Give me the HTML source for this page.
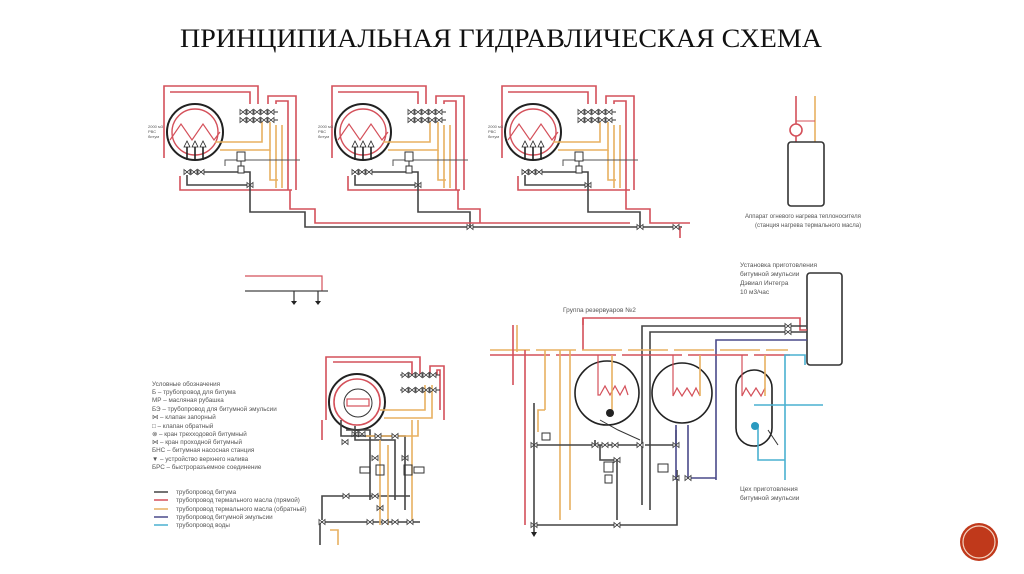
<!DOCTYPE html>
<html><head><meta charset="utf-8"><style>
html,body{margin:0;padding:0;background:#fff;}
svg{display:block;}
.t{font-family:"Liberation Sans",sans-serif;fill:#555;}
</style></head><body>
<svg width="1024" height="574" viewBox="0 0 1024 574" xmlns="http://www.w3.org/2000/svg">
<defs>
<g id="v"><path d="M-3,-2.5 L3,2.5 L3,-2.5 L-3,2.5 Z" fill="#fff" stroke="#333" stroke-width="0.8"/></g>
<g id="boiler" fill="none" stroke-width="1.6">
  <polyline points="164,158 164,86 258,86 258,104" stroke="#d4505a"/>
  <polyline points="170,92 250,92 250,104" stroke="#d4505a"/>
  <polyline points="268,104 268,96 296,96 296,190" stroke="#d4505a"/>
  <polyline points="276,104 276,101 288,101 288,190" stroke="#d4505a"/>
  <polyline points="180,176 180,190 292,190" stroke="#d4505a"/>
  <circle cx="195" cy="132" r="23" stroke="#d4505a" stroke-width="1.4"/>
  <circle cx="195" cy="132" r="28" stroke="#222" stroke-width="2"/>
  <polyline points="170,140 181,124 192,140 203,124 214,140 220,132" stroke="#d4505a" stroke-width="1.2"/>
  <polyline points="215,142 262,142 262,122" stroke="#e8b060"/>
  <polyline points="220,150 270,150 270,122" stroke="#e8b060"/>
  <polyline points="270,150 270,180 278,180" stroke="#e8b060"/>
  <line x1="276" y1="125" x2="276" y2="188" stroke="#e8b060"/>
  <line x1="282" y1="125" x2="282" y2="188" stroke="#e8b060"/>
  <polyline points="225,166 225,160 300,160" stroke="#555" stroke-width="1"/>
  <line x1="240" y1="112" x2="278" y2="112" stroke="#333" stroke-width="1"/>
  <line x1="240" y1="120" x2="278" y2="120" stroke="#333" stroke-width="1"/>
  <line x1="187" y1="160" x2="187" y2="145" stroke="#222"/>
  <line x1="195" y1="160" x2="195" y2="145" stroke="#222"/>
  <line x1="203" y1="160" x2="203" y2="145" stroke="#222"/>
  <path d="M184,147 L187,141 L190,147Z M192,147 L195,141 L198,147Z M200,147 L203,141 L206,147Z" fill="#fff" stroke="#222" stroke-width="0.8"/>
  <polyline points="185,170 185,172 250,172 250,186" stroke="#444"/>
  <polyline points="187,175 187,185 250,185" stroke="#444"/>
  <rect x="237" y="152" width="8" height="9" fill="#fff" stroke="#333" stroke-width="1"/>
  <rect x="238" y="166" width="6" height="7" fill="#fff" stroke="#333" stroke-width="1"/>
  <line x1="241" y1="161" x2="241" y2="166" stroke="#333" stroke-width="1"/>
</g>
<g id="bv">
  <use href="#v" x="243" y="112"/><use href="#v" x="250" y="112"/><use href="#v" x="257" y="112"/><use href="#v" x="264" y="112"/><use href="#v" x="271" y="112"/>
  <use href="#v" x="243" y="120"/><use href="#v" x="250" y="120"/><use href="#v" x="257" y="120"/><use href="#v" x="264" y="120"/><use href="#v" x="271" y="120"/>
  <use href="#v" x="187" y="172"/><use href="#v" x="194" y="172"/><use href="#v" x="201" y="172"/><use href="#v" x="250" y="185"/>
</g>
</defs>

<text x="180" y="47" font-family="'Liberation Serif',serif" font-size="26" fill="#111" textLength="642" lengthAdjust="spacingAndGlyphs">ПРИНЦИПИАЛЬНАЯ ГИДРАВЛИЧЕСКАЯ СХЕМА</text>

<!-- boilers -->
<use href="#boiler"/><use href="#bv"/>
<use href="#boiler" x="168"/><use href="#bv" x="168"/>
<use href="#boiler" x="338"/><use href="#bv" x="338"/>
<g class="t" font-size="4">
<text x="148" y="128">2000 м3</text><text x="148" y="133">РВС</text><text x="148" y="138">битум</text>
<text x="318" y="128">2000 м3</text><text x="318" y="133">РВС</text><text x="318" y="138">битум</text>
<text x="488" y="128">2000 м3</text><text x="488" y="133">РВС</text><text x="488" y="138">битум</text>
</g>
<!-- main bus -->
<g fill="none" stroke-width="1.6">
<polyline points="250,186 250,212 305,212 305,227 682,227" stroke="#444"/>
<polyline points="418,186 418,212 470,212 470,227" stroke="#444"/>
<polyline points="588,186 588,212 640,212 640,227" stroke="#444"/>
<polyline points="290,190 290,209 315,209 315,223 630,223" stroke="#d4505a"/>
<polyline points="458,190 458,209 480,209 480,223" stroke="#d4505a"/>
<polyline points="626,190 626,209 650,209 650,223 690,223" stroke="#d4505a"/>
<line x1="680" y1="227" x2="680" y2="238" stroke="#d4505a"/>
</g>
<use href="#v" x="470" y="227"/><use href="#v" x="640" y="227"/><use href="#v" x="676" y="227"/>

<!-- small piece -->
<g fill="none" stroke-width="1.2">
<polyline points="245,276 322,276 322,291" stroke="#d4505a"/>
<line x1="245" y1="291" x2="328" y2="291" stroke="#444"/>
<line x1="294" y1="291" x2="294" y2="302" stroke="#333"/><line x1="318" y1="291" x2="318" y2="302" stroke="#333"/>
</g>
<path d="M291,301 L297,301 L294,305Z M315,301 L321,301 L318,305Z" fill="#222"/>

<!-- top right heater -->
<g fill="none" stroke-width="1.6">
<polyline points="796,142 796,130 796,96" stroke="#d4505a"/>
<polyline points="815,142 815,96" stroke="#e8b060"/>
<line x1="796" y1="121" x2="815" y2="121" stroke="#d4505a" stroke-width="1"/>
<circle cx="796" cy="130" r="6" stroke="#d4505a" fill="#fff"/>
<rect x="788" y="142" width="36" height="64" rx="3" stroke="#333"/>
</g>
<text class="t" x="745" y="218" font-size="6">Аппарат огневого нагрева теплоносителя</text>
<text class="t" x="755" y="227" font-size="6">(станция нагрева термального масла)</text>

<!-- legend -->
<g class="t" font-size="6.3" fill="#444">
<text x="152" y="386">Условные обозначения</text>
<text x="152" y="394">Б – трубопровод для битума</text>
<text x="152" y="402">МР – масляная рубашка</text>
<text x="152" y="411">БЭ – трубопровод для битумной эмульсии</text>
<text x="152" y="419">⋈ – клапан запорный</text>
<text x="152" y="428">□ – клапан обратный</text>
<text x="152" y="436">⊗ – кран трехходовой битумный</text>
<text x="152" y="444">⋈ – кран проходной битумный</text>
<text x="152" y="452">БНС – битумная насосная станция</text>
<text x="152" y="461">▼ – устройство верхнего налива</text>
<text x="152" y="469">БРС – быстроразъемное соединение</text>
<text x="176" y="494">трубопровод битума</text>
<text x="176" y="502">трубопровод термального масла (прямой)</text>
<text x="176" y="511">трубопровод термального масла (обратный)</text>
<text x="176" y="519">трубопровод битумной эмульсии</text>
<text x="176" y="527">трубопровод воды</text>
</g>
<g stroke-width="1.5">
<line x1="154" y1="492" x2="168" y2="492" stroke="#444"/>
<line x1="154" y1="500" x2="168" y2="500" stroke="#d4505a"/>
<line x1="154" y1="509" x2="168" y2="509" stroke="#e8b060"/>
<line x1="154" y1="517" x2="168" y2="517" stroke="#4a4a8a"/>
<line x1="154" y1="525" x2="168" y2="525" stroke="#4ab0d0"/>
</g>

<!-- bottom-left group -->
<g fill="none" stroke-width="1.6">
<polyline points="326,420 326,357 420,357 420,375" stroke="#d4505a"/>
<polyline points="333,362 412,362 412,375" stroke="#d4505a"/>
<polyline points="430,375 430,366 444,366 444,420" stroke="#d4505a"/>
<polyline points="437,375 437,370 440,370 440,410" stroke="#d4505a"/>
<circle cx="357" cy="402" r="23" stroke="#d4505a"/>
<circle cx="357" cy="402" r="28" stroke="#222" stroke-width="2"/>
<circle cx="358" cy="403" r="14" stroke="#333" stroke-width="1"/>
<rect x="347" y="399" width="22" height="7" stroke="#d4505a" stroke-width="1.2"/>
<polyline points="380,410 425,410 425,385" stroke="#e8b060"/>
<polyline points="384,418 432,418 432,385" stroke="#e8b060"/>
<line x1="400" y1="375" x2="440" y2="375" stroke="#333" stroke-width="1"/>
<line x1="400" y1="390" x2="440" y2="390" stroke="#333" stroke-width="1"/>
<polyline points="341,420 341,436 355,436 405,436 405,510" stroke="#444"/>
<polyline points="346,430 370,430 370,500" stroke="#444"/>
<polyline points="355,426 355,440 395,440 395,500" stroke="#444"/>
<polyline points="322,520 322,496 410,496" stroke="#444"/>
<polyline points="320,522 420,522" stroke="#444"/>
<line x1="320" y1="522" x2="320" y2="545" stroke="#444"/>
<line x1="380" y1="440" x2="380" y2="525" stroke="#e8b060"/>
<line x1="388" y1="445" x2="388" y2="525" stroke="#e8b060"/>
<line x1="412" y1="420" x2="412" y2="520" stroke="#e8b060"/>
<polyline points="330,530 338,530 338,545" stroke="#e8b060"/>
<polyline points="366,436 418,436 418,420" stroke="#e8b060"/>
<line x1="322" y1="420" x2="322" y2="440" stroke="#d4505a"/>
<rect x="376" y="465" width="8" height="10" stroke="#333" stroke-width="1"/>
<rect x="404" y="465" width="8" height="10" stroke="#333" stroke-width="1"/>
<rect x="360" y="467" width="10" height="6" stroke="#333" stroke-width="1"/>
<rect x="414" y="467" width="10" height="6" stroke="#333" stroke-width="1"/>
</g>
<g>
<use href="#v" x="405" y="375"/><use href="#v" x="412" y="375"/><use href="#v" x="419" y="375"/><use href="#v" x="426" y="375"/><use href="#v" x="433" y="375"/>
<use href="#v" x="405" y="390"/><use href="#v" x="412" y="390"/><use href="#v" x="419" y="390"/><use href="#v" x="426" y="390"/><use href="#v" x="433" y="390"/>
<use href="#v" x="355" y="434"/><use href="#v" x="362" y="434"/><use href="#v" x="378" y="436"/><use href="#v" x="395" y="436"/>
<use href="#v" x="345" y="442"/><use href="#v" x="375" y="458"/><use href="#v" x="405" y="458"/>
<use href="#v" x="346" y="496"/><use href="#v" x="375" y="496"/><use href="#v" x="380" y="508"/>
<use href="#v" x="322" y="522"/><use href="#v" x="370" y="522"/><use href="#v" x="385" y="522"/><use href="#v" x="395" y="522"/><use href="#v" x="410" y="522"/>
</g>

<!-- right section -->
<text class="t" x="563" y="312" font-size="6.5">Группа резервуаров №2</text>
<text class="t" x="740" y="267" font-size="6.5">Установка приготовления</text>
<text class="t" x="740" y="276" font-size="6.5">битумной эмульсии</text>
<text class="t" x="740" y="285" font-size="6.5">Дэвиал Интегра</text>
<text class="t" x="740" y="294" font-size="6.5">10 м3/час</text>
<text class="t" x="740" y="491" font-size="6.5">Цех приготовления</text>
<text class="t" x="740" y="500" font-size="6.5">битумной эмульсии</text>
<g fill="none" stroke-width="1.6">
<rect x="807" y="273" width="35" height="92" rx="3" stroke="#333"/>
<polyline points="583,325 583,318 800,318 800,330 807,330" stroke="#d4505a"/>
<polyline points="642,505 642,326 807,326" stroke="#444"/>
<polyline points="650,510 650,332 807,332" stroke="#444"/>
<polyline points="716,480 716,340 807,340" stroke="#4a4a8a"/>
<line x1="583" y1="318" x2="583" y2="350" stroke="#d4505a"/>
<line x1="490" y1="350" x2="788" y2="350" stroke="#e8b060" stroke-dasharray="40,6"/>
<line x1="490" y1="355" x2="790" y2="355" stroke="#d4505a" stroke-dasharray="60,6"/>
<line x1="517" y1="325" x2="517" y2="352" stroke="#e8b060"/>
<line x1="513" y1="325" x2="513" y2="385" stroke="#d4505a"/>
<line x1="525" y1="350" x2="525" y2="525" stroke="#d4505a"/>
<line x1="545" y1="350" x2="545" y2="410" stroke="#e8b060"/>
<polyline points="545,410 538,410 538,432" stroke="#e8b060"/>
<line x1="560" y1="350" x2="560" y2="520" stroke="#e8b060"/>
<line x1="570" y1="350" x2="570" y2="510" stroke="#e8b060"/>
<circle cx="607" cy="393" r="32" stroke="#222"/>
<circle cx="682" cy="393" r="30" stroke="#222"/>
<rect x="736" y="370" width="36" height="76" rx="18" stroke="#222"/>
<polyline points="598,355 598,395 600,395 605,386 610,395 615,386 620,395 625,386 628,395" stroke="#d4505a" stroke-width="1.2"/>
<polyline points="612,355 612,410" stroke="#e8b060"/>
<polyline points="673,355 673,396 677,388 682,396 687,388 692,396 696,388 700,396" stroke="#d4505a" stroke-width="1.2"/>
<line x1="700" y1="355" x2="700" y2="396" stroke="#e8b060"/>
<polyline points="742,355 742,396 746,388 751,396 756,388 761,396 765,388" stroke="#d4505a" stroke-width="1.2"/>
<line x1="765" y1="355" x2="765" y2="396" stroke="#e8b060"/>
<polyline points="785,480 785,355 805,355 805,365" stroke="#4ab0d0"/>
<polyline points="754,405 823,405" stroke="#4ab0d0"/>
<polyline points="754,425 758,425 758,460 785,460" stroke="#4ab0d0"/>
<line x1="768" y1="430" x2="778" y2="445" stroke="#333" stroke-width="1"/>
<line x1="534" y1="403" x2="534" y2="532" stroke="#444"/>
<polyline points="534,445 595,445 595,440" stroke="#444"/>
<polyline points="600,420 618,430 640,440" stroke="#333" stroke-width="1"/>
<polyline points="595,445 642,445" stroke="#444"/>
<polyline points="600,445 600,460 617,460 617,520" stroke="#444"/>
<polyline points="534,525 677,525 677,470" stroke="#444"/>
<polyline points="645,445 676,445 676,430" stroke="#444"/>
<line x1="676" y1="425" x2="676" y2="480" stroke="#4a4a8a"/>
<polyline points="688,425 688,478 716,478" stroke="#4a4a8a"/>
<rect x="604" y="462" width="9" height="10" stroke="#333" stroke-width="1"/>
<rect x="605" y="475" width="7" height="8" stroke="#333" stroke-width="1"/>
<rect x="542" y="433" width="8" height="7" stroke="#333" stroke-width="1"/>
<rect x="658" y="464" width="10" height="8" stroke="#333" stroke-width="1"/>
</g>
<circle cx="610" cy="413" r="4" fill="#222"/>
<circle cx="755" cy="426" r="4" fill="#2a9ac0"/>
<path d="M531,532 L537,532 L534,537Z" fill="#222"/>
<g>
<use href="#v" x="534" y="445"/><use href="#v" x="595" y="445"/><use href="#v" x="605" y="445"/><use href="#v" x="615" y="445"/>
<use href="#v" x="640" y="445"/><use href="#v" x="676" y="445"/><use href="#v" x="617" y="460"/>
<use href="#v" x="676" y="478"/><use href="#v" x="688" y="478"/><use href="#v" x="534" y="525"/><use href="#v" x="617" y="525"/>
<use href="#v" x="788" y="326"/><use href="#v" x="788" y="332"/>
</g>

<!-- corner button -->
<circle cx="979" cy="542" r="19" fill="#c0391b"/>
<circle cx="979" cy="542" r="16" fill="none" stroke="#f3d3c0" stroke-width="1.2"/>
</svg>
</body></html>
